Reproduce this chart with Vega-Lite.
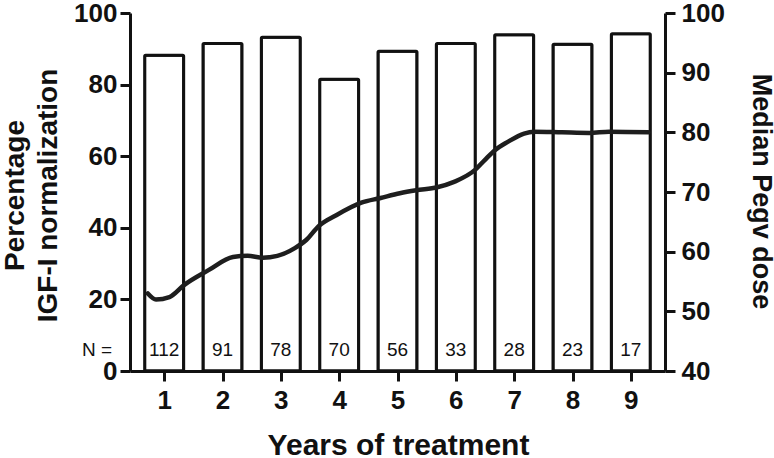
{
  "$schema": "https://vega.github.io/schema/vega-lite/v6.json",
  "width": 535,
  "height": 358,
  "autosize": "none",
  "padding": {"left": 130, "top": 13, "right": 109, "bottom": 87},
  "background": "white",
  "config": {
    "view": {"stroke": null},
    "font": "Liberation Sans",
    "axis": {
      "grid": false,
      "domainColor": "#111111",
      "domainWidth": 3,
      "tickColor": "#111111",
      "tickWidth": 3,
      "tickSize": 10,
      "labelFont": "Liberation Sans",
      "labelFontWeight": "bold",
      "labelFontSize": 26,
      "labelColor": "#111111",
      "titleFont": "Liberation Sans",
      "titleFontWeight": "bold",
      "titleColor": "#111111"
    }
  },
  "datasets": {
    "bars": [
      {"year": 1, "pct": 88.2, "n": "112"},
      {"year": 2, "pct": 91.5, "n": "91"},
      {"year": 3, "pct": 93.2, "n": "78"},
      {"year": 4, "pct": 81.5, "n": "70"},
      {"year": 5, "pct": 89.3, "n": "56"},
      {"year": 6, "pct": 91.5, "n": "33"},
      {"year": 7, "pct": 93.9, "n": "28"},
      {"year": 8, "pct": 91.3, "n": "23"},
      {"year": 9, "pct": 94.2, "n": "17"}
    ],
    "dose": [
      {"year": 0.72, "dose": 53.0},
      {"year": 0.86, "dose": 52.0},
      {"year": 1.09, "dose": 52.4},
      {"year": 1.34, "dose": 54.4},
      {"year": 1.76, "dose": 56.9},
      {"year": 2.18, "dose": 59.1},
      {"year": 2.43, "dose": 59.3},
      {"year": 2.69, "dose": 59.0},
      {"year": 2.94, "dose": 59.3},
      {"year": 3.24, "dose": 60.6},
      {"year": 3.44, "dose": 62.0},
      {"year": 3.64, "dose": 64.2},
      {"year": 3.95, "dose": 66.1},
      {"year": 4.38, "dose": 68.2},
      {"year": 4.71, "dose": 69.0},
      {"year": 5.04, "dose": 69.8},
      {"year": 5.32, "dose": 70.3},
      {"year": 5.68, "dose": 70.8},
      {"year": 5.97, "dose": 71.7},
      {"year": 6.33, "dose": 73.7},
      {"year": 6.5, "dose": 75.4},
      {"year": 6.67, "dose": 77.0},
      {"year": 6.89, "dose": 78.4},
      {"year": 7.17, "dose": 79.8},
      {"year": 7.34, "dose": 80.1},
      {"year": 7.82, "dose": 80.0},
      {"year": 8.29, "dose": 79.9},
      {"year": 8.63, "dose": 80.1},
      {"year": 9.3, "dose": 80.0}
    ]
  },
  "layer": [
    {
      "layer": [
        {
          "data": {"name": "bars"},
          "mark": {"type": "bar", "width": 39, "fill": "white", "stroke": "#111111", "strokeWidth": 3, "cornerRadius": 1},
          "encoding": {
            "x": {
              "field": "year",
              "type": "quantitative",
              "scale": {"domain": [0.5, 9.5], "nice": false, "zero": false},
              "axis": {
                "values": [1, 2, 3, 4, 5, 6, 7, 8, 9],
                "format": "d",
                "labelPadding": 6,
                "labelBaseline": "top",
                "title": "Years of treatment",
                "titleFontSize": 30,
                "titleBaseline": "alphabetic",
                "titleY": 83,
                "titleX": 268
              }
            },
            "y": {
              "field": "pct",
              "type": "quantitative",
              "scale": {"domain": [0, 100], "nice": false},
              "axis": {
                "orient": "left",
                "values": [0, 20, 40, 60, 80, 100],
                "format": "d",
                "labelPadding": 3,
                "title": ["Percentage", "IGF-I normalization"],
                "titleFontSize": 28,
                "titleLineHeight": 33,
                "titleAngle": -90,
                "titleBaseline": "alphabetic",
                "titleAlign": "center",
                "titleX": -107,
                "titleY": 182
              }
            }
          }
        },
        {
          "data": {"name": "bars"},
          "mark": {"type": "text", "fontSize": 19, "font": "Liberation Sans", "color": "#111111", "baseline": "middle"},
          "encoding": {
            "x": {"field": "year", "type": "quantitative"},
            "y": {"datum": 5.8},
            "text": {"field": "n"}
          }
        },
        {
          "data": {"values": [{"label": "N ="}]},
          "mark": {"type": "text", "fontSize": 19, "font": "Liberation Sans", "color": "#111111", "baseline": "middle", "align": "right", "dx": -23},
          "encoding": {
            "x": {"datum": 0.5},
            "y": {"datum": 5.8},
            "text": {"field": "label"}
          }
        }
      ]
    },
    {
      "data": {"name": "dose"},
      "mark": {"type": "line", "interpolate": "monotone", "stroke": "#1e1e1e", "strokeWidth": 4.5, "strokeCap": "round"},
      "encoding": {
        "x": {"field": "year", "type": "quantitative"},
        "y": {
          "field": "dose",
          "type": "quantitative",
          "scale": {"domain": [40, 100], "nice": false, "zero": false},
          "axis": {
            "orient": "right",
            "values": [40, 50, 60, 70, 80, 90, 100],
            "format": "d",
            "labelPadding": 6,
            "title": "Median Pegv dose",
            "titleFontSize": 27,
            "titleAngle": 90,
            "titleBaseline": "alphabetic",
            "titleAlign": "center",
            "titleX": 87,
            "titleY": 178
          }
        }
      }
    }
  ],
  "resolve": {"scale": {"y": "independent"}}
}
